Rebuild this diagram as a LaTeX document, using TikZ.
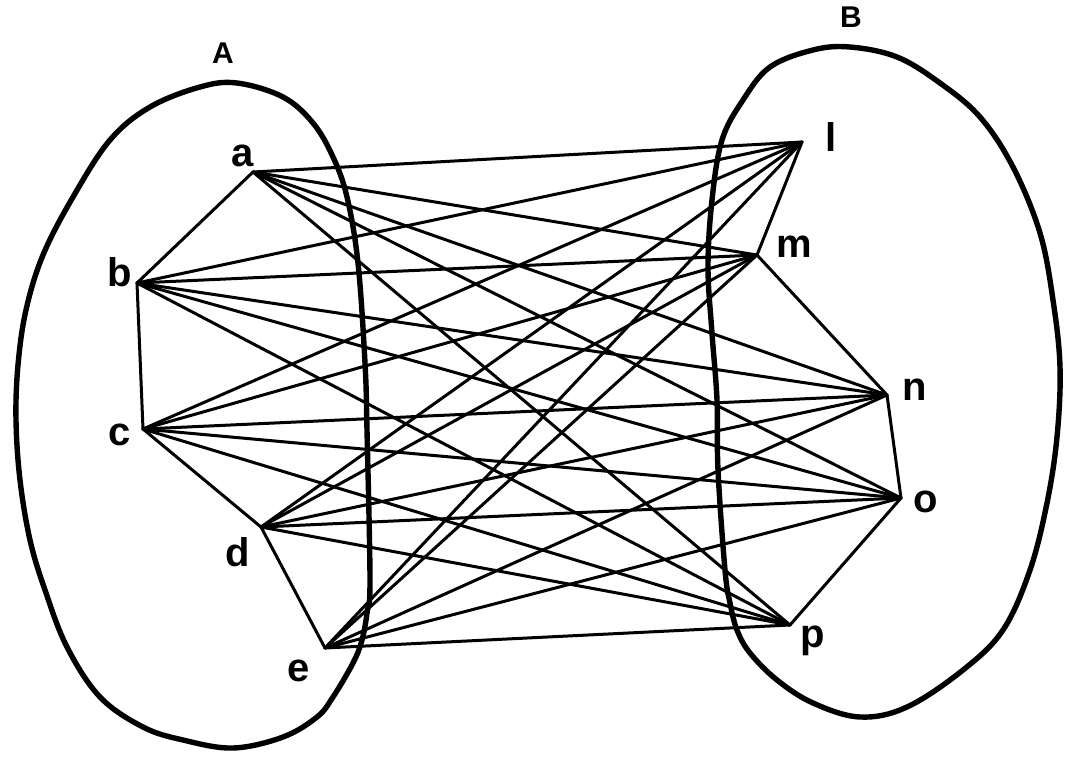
\documentclass[tikz,border=0pt]{standalone}
\usepackage{fontspec}
\setmainfont{Liberation Sans}
\tikzset{
  pt/.style={coordinate},
  lbl/.style={inner sep=0pt,font=\fontsize{20}{20}\selectfont\bfseries},
  setlbl/.style={inner sep=0pt,font=\fontsize{15}{15}\selectfont\bfseries},
  edge/.style={line width=1.5pt,line cap=round},
  blob/.style={line width=2.7pt}
}
\begin{document}
\begin{tikzpicture}[x=0.5pt,y=-0.5pt]
            \useasboundingbox (0,0) rectangle (1073,757);
            % the two sets
            \draw[blob] plot[smooth cycle,tension=0.6] coordinates {(237,83) (283,97) (313,123) (333,157) (347,197)
              (358,263) (365,363) (367,430) (370,580) (367,613) (362,640) (353,663) (333,697) (317,717)
              (283,737) (233,748) (183,740) (143,727) (100,697) (67,647) (45,590) (30,540) (20,480)
              (16,420) (18,365) (26,310) (43,255) (73,197) (110,140) (150,107) (200,87)};
            \draw[blob] plot[smooth cycle,tension=0.6] coordinates {(850,47) (897,57) (940,83) (980,117) (1013,167)
              (1040,233) (1053,300) (1060,367) (1057,437) (1047,503) (1030,570) (1003,630) (963,670)
              (907,707) (860,717) (813,703) (777,680) (750,653) (737,630) (730,603) (725,570) (718,470)
              (717,400) (712,333) (708,267) (712,200) (722,140) (743,100) (770,67) (813,50)};
            \node[setlbl] at (223,53) (sa) {A};
            \node[setlbl] at (851,17) (sb) {B};
            % vertices
            \node[pt] at (253,172) (a) {};
            \node[pt] at (137,283) (b) {};
            \node[pt] at (143,429) (c) {};
            \node[pt] at (261,527) (d) {};
            \node[pt] at (325,648) (e) {};
            \node[pt] at (802,142) (l) {};
            \node[pt] at (757,255) (m) {};
            \node[pt] at (887,395) (n) {};
            \node[pt] at (901,498) (o) {};
            \node[pt] at (790,625) (p) {};
            \node[lbl] at (243,156) (la) {a};
            \node[lbl] at (120,272) (lb) {b};
            \node[lbl] at (120,435) (lc) {c};
            \node[lbl] at (238,552) (ld) {d};
            \node[lbl] at (299,671) (le) {e};
            \node[lbl] at (831,137) (ll) {l};
            \node[lbl] at (794,247) (lm) {m};
            \node[lbl] at (915,390) (ln) {n};
            \node[lbl] at (926,502) (lo) {o};
            \node[lbl] at (813,641) (lp) {p};
            % edges
            \draw[edge] (a) to (b);
            \draw[edge] (b) to (c);
            \draw[edge] (c) to (d);
            \draw[edge] (d) to (e);
            \draw[edge] (l) to (m);
            \draw[edge] (m) to (n);
            \draw[edge] (n) to (o);
            \draw[edge] (o) to (p);
            \foreach \u in {a,b,c,d,e}
              \foreach \v in {l,m,n,o,p}
                \draw[edge] (\u) to (\v);
        \end{tikzpicture}
\end{document}
